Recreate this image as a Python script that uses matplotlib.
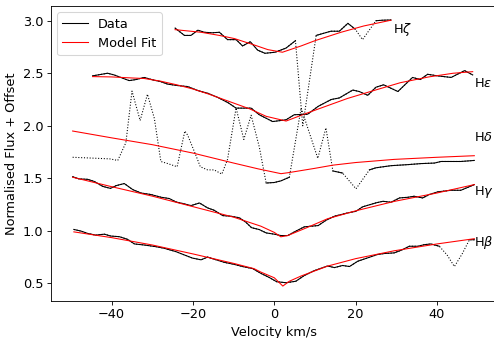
import numpy as np
import matplotlib
matplotlib.use("Agg")
import matplotlib.pyplot as plt

# H zeta
v_zeta = [-24.4, -22.1, -20.5, -18.8, -17.2, -15.3, -13.5, -11.5, -9.4, -7.8, -5.9, -4.1, -2.3, 0.2,
          2.9, 5.2, 7.0, 10.3, 13.9, 16.0, 18.1, 19.9, 21.7, 25.0, 26.7, 28.7]
f_zeta = [2.93, 2.86, 2.86, 2.91, 2.89, 2.885, 2.89, 2.82, 2.82, 2.76, 2.80, 2.72, 2.69, 2.70,
          2.74, 2.81, 2.00, 2.86, 2.90, 2.90, 2.975, 2.92, 2.82, 3.00, 3.005, 3.007]
ok_zeta = [1, 1, 1, 1, 1, 1, 1, 1, 1, 1, 1, 1, 1, 1,
           1, 1, 0, 1, 1, 1, 1, 1, 0, 1, 1, 1]
vm_zeta = [-24.4, -18.0, -13.5, -9.8, -5.0, -1.6, 2.0, 6.6, 10.0, 16.4, 22.0, 28.7]
m_zeta = [2.915, 2.89, 2.86, 2.83, 2.77, 2.725, 2.70, 2.76, 2.81, 2.89, 2.95, 3.005]

# H epsilon
v_eps = [-44.7, -41.0, -39.4, -37.3, -35.7, -34.0, -32.0, -29.9, -27.9, -26.2, -23.8, -21.3,
         -18.8, -16.4, -13.9, -11.3, -9.4, -5.7, -3.7, -0.4, 2.9, 4.9, 8.2, 10.8, 14.0, 16.0,
         19.3, 20.9, 23.0, 25.0, 26.9, 30.4, 34.0, 35.9, 37.7, 40.2, 43.5, 46.8, 48.8]
f_eps = [2.475, 2.50, 2.484, 2.453, 2.43, 2.44, 2.46, 2.437, 2.42, 2.396, 2.383, 2.373,
         2.335, 2.31, 2.27, 2.218, 2.168, 2.168, 2.105, 2.04, 2.057, 2.105, 2.11, 2.185, 2.25, 2.265,
         2.34, 2.326, 2.29, 2.367, 2.39, 2.326, 2.46, 2.44, 2.49, 2.475, 2.46, 2.525, 2.484]
vm_eps = [-44.7, -40.0, -35.0, -32.0, -28.0, -24.0, -20.0, -16.0, -11.0, -6.0, -2.0, 2.9,
          8.0, 13.0, 18.0, 24.0, 31.0, 38.0, 44.0, 48.8]
m_eps = [2.468, 2.465, 2.455, 2.45, 2.425, 2.39, 2.35, 2.30, 2.23, 2.16, 2.09, 2.045,
         2.12, 2.19, 2.26, 2.33, 2.41, 2.465, 2.50, 2.515]

# H delta
v_del = [-49.6, -46.5, -43.5, -40.5, -38.5, -36.5, -35.0, -33.0, -31.2, -29.5, -27.9, -26.2,
         -23.9, -22.0, -21.3, -19.3, -18.2, -16.4, -14.8, -12.9, -11.5, -9.4, -7.5, -5.7, -3.7,
         -2.0, 0.0, 1.6, 3.7, 6.6, 10.7, 12.7, 14.4, 16.8, 20.1, 23.4, 25.0, 28.7, 32.8, 36.1,
         39.4, 41.0, 45.9, 49.2]
f_del = [1.70, 1.695, 1.69, 1.685, 1.67, 1.84, 2.33, 2.05, 2.30, 2.07, 1.66, 1.64,
         1.61, 1.95, 1.91, 1.72, 1.61, 1.58, 1.58, 1.54, 1.68, 2.17, 1.87, 2.10, 1.80,
         1.455, 1.46, 1.475, 1.51, 2.17, 1.69, 1.98, 1.57, 1.55, 1.40, 1.58, 1.60, 1.62, 1.63, 1.64,
         1.645, 1.66, 1.66, 1.67]
ok_del = [0, 0, 0, 0, 0, 0, 0, 0, 0, 0, 0, 0,
          0, 0, 0, 0, 0, 0, 0, 0, 0, 0, 0, 0, 0,
          1, 1, 1, 1, 0, 0, 0, 1, 1, 0, 1, 1, 1, 1, 1,
          1, 1, 1, 1]
vm_del = [-49.6, -40.0, -30.0, -20.0, -10.0, -4.0, 1.65, 3.7, 10.0, 14.4, 20.0, 29.5, 40.0, 49.2]
m_del = [1.95, 1.885, 1.82, 1.74, 1.645, 1.59, 1.544, 1.555, 1.595, 1.625, 1.65, 1.68, 1.70, 1.715]

# H gamma
v_gam = [-49.6, -48.0, -45.9, -44.3, -42.2, -40.3, -38.9, -36.9, -34.8, -32.8, -30.3, -27.9,
         -25.8, -24.2, -22.1, -20.5, -18.4, -16.4, -14.8, -12.7, -10.7, -8.6, -7.0, -5.6, -3.7,
         -2.0, 0.0, 1.6, 3.3, 5.3, 7.4, 10.8, 12.7, 14.8, 18.1, 20.1, 21.7, 25.0, 26.7, 28.7,
         30.8, 32.8, 34.4, 36.5, 38.1, 40.2, 43.5, 45.9, 49.2]
f_gam = [1.515, 1.494, 1.49, 1.47, 1.423, 1.404, 1.43, 1.45, 1.392, 1.36, 1.345, 1.32,
         1.307, 1.275, 1.256, 1.24, 1.265, 1.218, 1.196, 1.145, 1.139, 1.124, 1.082, 1.03, 1.012,
         0.98, 0.968, 0.955, 0.955, 0.997, 1.038, 1.05, 1.10, 1.139, 1.171, 1.186, 1.228, 1.266, 1.281, 1.272,
         1.313, 1.319, 1.329, 1.313, 1.345, 1.371, 1.386, 1.386, 1.44]
vm_gam = [-49.6, -40.0, -30.0, -20.0, -10.0, -3.3, 0.0, 1.6, 3.3, 8.0, 13.1, 20.0, 29.5, 40.0, 49.2]
m_gam = [1.51, 1.42, 1.33, 1.23, 1.13, 1.044, 0.985, 0.943, 0.955, 1.03, 1.115, 1.19, 1.28, 1.36, 1.44]

# H beta
v_bet = [-49.3, -47.5, -45.9, -43.9, -41.8, -40.2, -38.1, -36.1, -34.4, -32.0, -29.1, -27.1,
         -24.2, -22.1, -20.1, -18.0, -16.4, -14.3, -12.3, -9.8, -7.8, -5.3, -3.3, -1.2, 0.6,
         2.9, 5.3, 7.4, 9.8, 13.1, 14.8, 16.8, 18.5, 20.5, 23.0, 25.4, 27.1, 29.5, 31.2, 33.2,
         35.3, 36.9, 38.5, 40.6, 42.5, 44.3, 46.2, 48.0, 49.2]
f_bet = [1.013, 0.997, 0.975, 0.959, 0.968, 0.95, 0.944, 0.919, 0.875, 0.865, 0.849, 0.834,
         0.802, 0.77, 0.74, 0.724, 0.75, 0.724, 0.70, 0.68, 0.66, 0.64, 0.595, 0.555, 0.515,
         0.506, 0.52, 0.575, 0.62, 0.665, 0.65, 0.67, 0.66, 0.71, 0.743, 0.775, 0.784, 0.79, 0.815, 0.853,
         0.853, 0.868, 0.875, 0.853, 0.77, 0.66, 0.78, 0.915, 0.915]
ok_bet = [1] * 44 + [0, 0, 0, 1, 1]
vm_bet = [-49.3, -40.0, -30.0, -20.0, -10.0, -5.0, -3.3, 0.0, 2.1, 3.7, 6.6, 13.1, 20.0, 29.5, 40.0, 49.2]
m_bet = [0.99, 0.935, 0.865, 0.78, 0.69, 0.64, 0.607, 0.553, 0.474, 0.52, 0.57, 0.664, 0.735, 0.81, 0.875, 0.925]

labels = [r'H$\zeta$', r'H$\epsilon$', r'H$\delta$', r'H$\gamma$', r'H$\beta$']
label_x = [29.2, 49.0, 49.0, 49.0, 49.0]
label_y = [2.92, 2.40, 1.89, 1.37, 0.886]

plt.rcParams['font.size'] = 12
fig = plt.figure(figsize=(494 / 77, 338 / 77), dpi=77)
ax = fig.add_axes([0.1026, 0.1095, 0.9053, 0.8727])

lines = [(v_zeta, f_zeta, ok_zeta, vm_zeta, m_zeta),
         (v_eps, f_eps, [1] * len(v_eps), vm_eps, m_eps),
         (v_del, f_del, ok_del, vm_del, m_del),
         (v_gam, f_gam, [1] * len(v_gam), vm_gam, m_gam),
         (v_bet, f_bet, ok_bet, vm_bet, m_bet)]

for i, (v, f, ok, vm, m) in enumerate(lines):
    v = np.array(v)
    f = np.array(f)
    ok = np.array(ok, dtype=bool)
    # masked points drawn dotted, good points solid on top
    ax.plot(v, f, ':', color='k', lw=1.0)
    ax.plot(v, np.where(ok, f, np.nan), '-', color='k', lw=1.0,
            label='Data' if i == 0 else None)
    ax.plot(vm, m, '-', color='red', lw=1.0,
            label='Model Fit' if i == 0 else None)

for lab, lx, ly in zip(labels, label_x, label_y):
    ax.text(lx, ly, lab, ha='left', va='center')

ax.set_xlim(-55, 55)
ax.set_ylim(0.332, 3.14)
ax.set_xticks([-40, -20, 0, 20, 40])
ax.set_yticks([0.5, 1.0, 1.5, 2.0, 2.5, 3.0])
ax.set_xlabel('Velocity km/s')
ax.set_ylabel('Normalised Flux + Offset')
ax.legend(loc='upper left')

fig.savefig('out.png', dpi=77)
